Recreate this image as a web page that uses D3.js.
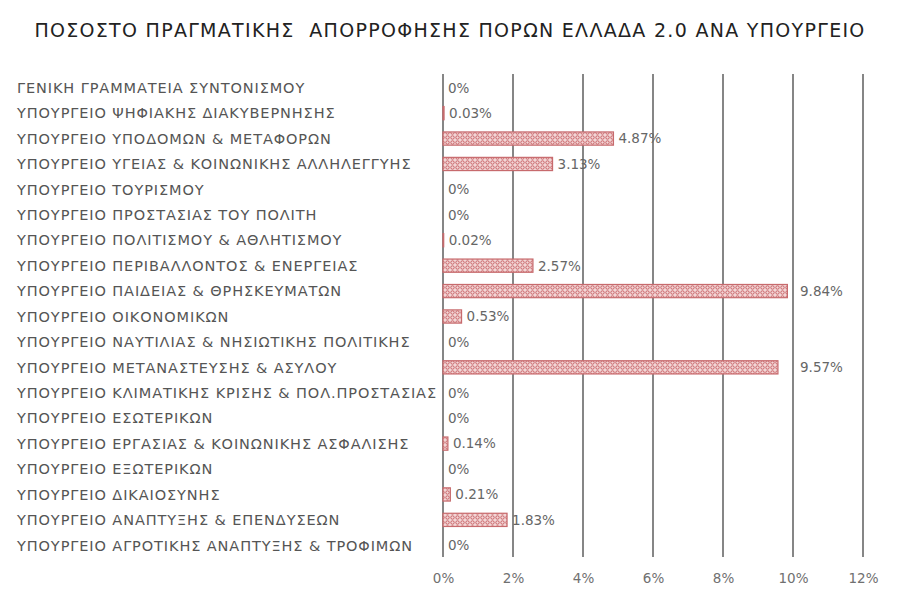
<!DOCTYPE html>
<html>
<head>
<meta charset="utf-8">
<script src="https://cdn.jsdelivr.net/npm/d3@7"></script>
<style>
  body { margin: 0; background: #fff; }
  svg { display: block; }
</style>
</head>
<body>
<svg id="chart" width="900" height="603"></svg>
<script>
const width = 900;
const height = 603;

const title = "ΠΟΣΟΣΤΟ ΠΡΑΓΜΑΤΙΚΗΣ  ΑΠΟΡΡΟΦΗΣΗΣ ΠΟΡΩΝ ΕΛΛΑΔΑ 2.0 ΑΝΑ ΥΠΟΥΡΓΕΙΟ";

const ministries = [
    "ΓΕΝΙΚΗ ΓΡΑΜΜΑΤΕΙΑ ΣΥΝΤΟΝΙΣΜΟΥ",
    "ΥΠΟΥΡΓΕΙΟ ΨΗΦΙΑΚΗΣ ΔΙΑΚΥΒΕΡΝΗΣΗΣ",
    "ΥΠΟΥΡΓΕΙΟ ΥΠΟΔΟΜΩΝ & ΜΕΤΑΦΟΡΩΝ",
    "ΥΠΟΥΡΓΕΙΟ ΥΓΕΙΑΣ & ΚΟΙΝΩΝΙΚΗΣ ΑΛΛΗΛΕΓΓΥΗΣ",
    "ΥΠΟΥΡΓΕΙΟ ΤΟΥΡΙΣΜΟΥ",
    "ΥΠΟΥΡΓΕΙΟ ΠΡΟΣΤΑΣΙΑΣ ΤΟΥ ΠΟΛΙΤΗ",
    "ΥΠΟΥΡΓΕΙΟ ΠΟΛΙΤΙΣΜΟΥ & ΑΘΛΗΤΙΣΜΟΥ",
    "ΥΠΟΥΡΓΕΙΟ ΠΕΡΙΒΑΛΛΟΝΤΟΣ & ΕΝΕΡΓΕΙΑΣ",
    "ΥΠΟΥΡΓΕΙΟ ΠΑΙΔΕΙΑΣ & ΘΡΗΣΚΕΥΜΑΤΩΝ",
    "ΥΠΟΥΡΓΕΙΟ ΟΙΚΟΝΟΜΙΚΩΝ",
    "ΥΠΟΥΡΓΕΙΟ ΝΑΥΤΙΛΙΑΣ & ΝΗΣΙΩΤΙΚΗΣ ΠΟΛΙΤΙΚΗΣ",
    "ΥΠΟΥΡΓΕΙΟ ΜΕΤΑΝΑΣΤΕΥΣΗΣ & ΑΣΥΛΟΥ",
    "ΥΠΟΥΡΓΕΙΟ ΚΛΙΜΑΤΙΚΗΣ ΚΡΙΣΗΣ & ΠΟΛ.ΠΡΟΣΤΑΣΙΑΣ",
    "ΥΠΟΥΡΓΕΙΟ ΕΣΩΤΕΡΙΚΩΝ",
    "ΥΠΟΥΡΓΕΙΟ ΕΡΓΑΣΙΑΣ & ΚΟΙΝΩΝΙΚΗΣ ΑΣΦΑΛΙΣΗΣ",
    "ΥΠΟΥΡΓΕΙΟ ΕΞΩΤΕΡΙΚΩΝ",
    "ΥΠΟΥΡΓΕΙΟ ΔΙΚΑΙΟΣΥΝΗΣ",
    "ΥΠΟΥΡΓΕΙΟ ΑΝΑΠΤΥΞΗΣ & ΕΠΕΝΔΥΣΕΩΝ",
    "ΥΠΟΥΡΓΕΙΟ ΑΓΡΟΤΙΚΗΣ ΑΝΑΠΤΥΞΗΣ & ΤΡΟΦΙΜΩΝ"
];

// ποσοστό απορρόφησης (%)
const absorption = [0, 0.03, 4.87, 3.13, 0, 0, 0.02, 2.57, 9.84, 0.53, 0, 9.57, 0, 0, 0.14, 0, 0.21, 1.83, 0];

const ticks = [0, 2, 4, 6, 8, 10, 12];

const data = ministries.map((name, i) => ({ name, value: absorption[i] }));

const font = "'DejaVu Sans', sans-serif";

const svg = d3.select("#chart");

// μοτίβο γεμίσματος μπάρας
const defs = svg.append("defs");
const pat = defs.append("pattern")
    .attr("id", "dots")
    .attr("patternUnits", "userSpaceOnUse")
    .attr("width", 5)
    .attr("height", 5);
pat.append("rect").attr("width", 5).attr("height", 5).attr("fill", "#f2d6d6");
pat.append("circle")
    .attr("cx", 2.5)
    .attr("cy", 2.5)
    .attr("r", 1.7)
    .attr("fill", "none")
    .attr("stroke", "#c4575b")
    .attr("stroke-width", 0.9);

svg.append("text")
    .attr("x", 450)
    .attr("y", 37)
    .attr("text-anchor", "middle")
    .attr("font-family", font)
    .attr("font-size", 19)
    .attr("letter-spacing", 1.3)
    .attr("fill", "#222")
    .attr("xml:space", "preserve")
    .text(title);

const x = d3.scaleLinear()
    .domain([0, 12])
    .range([443, 863]);

const y = d3.scaleBand()
    .domain(ministries)
    .range([75, 558])
    .paddingInner(0.48)
    .paddingOuter(0.24);

// κάθετες γραμμές πλέγματος
svg.append("g")
    .selectAll("line")
    .data(ticks)
    .join("line")
    .attr("x1", d => x(d))
    .attr("x2", d => x(d))
    .attr("y1", 74)
    .attr("y2", 557)
    .attr("stroke", "#454545")
    .attr("stroke-width", 1.3);

const xAxis = d3.axisBottom(x)
    .tickValues(ticks)
    .tickFormat(d => d + "%")
    .tickSize(0)
    .tickPadding(0);

svg.append("g")
    .attr("transform", "translate(0,583)")
    .call(xAxis)
    .call(g => g.select(".domain").remove())
    .call(g => g.selectAll("text")
        .attr("font-family", font)
        .attr("font-size", 13.5)
        .attr("fill", "#707070")
        .attr("dy", 0));

svg.append("g")
    .selectAll("text")
    .data(data)
    .join("text")
    .attr("x", 17)
    .attr("y", d => y(d.name) + y.bandwidth() / 2)
    .attr("dy", "0.36em")
    .attr("font-family", font)
    .attr("font-size", 14.5)
    .attr("letter-spacing", 0.9)
    .attr("fill", "#555")
    .text(d => d.name);

svg.append("g")
    .selectAll("rect")
    .data(data)
    .join("rect")
    .attr("x", x(0))
    .attr("y", d => y(d.name))
    .attr("width", d => x(d.value) - x(0))
    .attr("height", y.bandwidth())
    .attr("fill", "url(#dots)")
    .attr("stroke", "#c76a6d")
    .attr("stroke-width", 1.2);

svg.append("g")
    .selectAll("text")
    .data(data)
    .join("text")
    .attr("x", d => (d.value > 9 ? x(10) : x(d.value)) + (d.value > 9 ? 7 : 5))
    .attr("y", d => y(d.name) + y.bandwidth() / 2)
    .attr("dy", "0.36em")
    .attr("font-family", font)
    .attr("font-size", 13.5)
    .attr("fill", "#666")
    .text(d => d.value + "%");
</script>
</body>
</html>
